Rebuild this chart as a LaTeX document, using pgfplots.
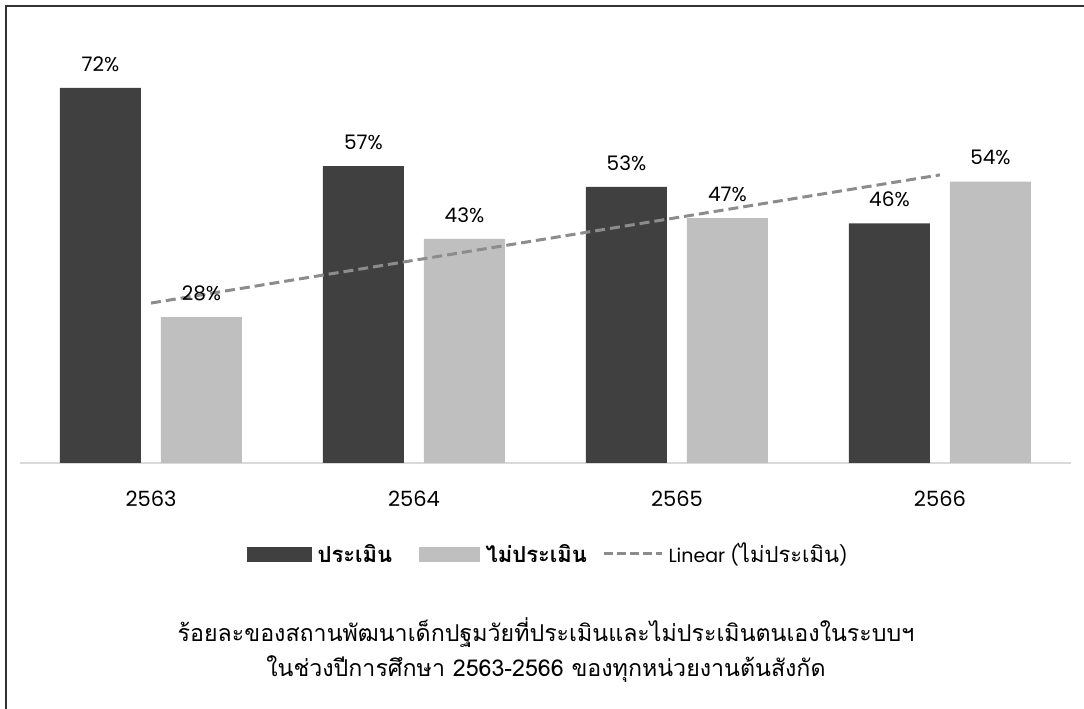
\documentclass[border=0pt]{standalone}
\usepackage{fontspec}
\usepackage{pgfplots}
\pgfplotsset{compat=1.18}
\setmainfont{Poppins}
\newfontfamily\thaifont[Script=Thai]{Loma}
\definecolor{darkbar}{HTML}{404040}
\definecolor{lightbar}{HTML}{BFBFBF}
\definecolor{trendc}{HTML}{8C8C8C}
\definecolor{axisc}{HTML}{D9D9D9}
\begin{document}
\begin{tikzpicture}[x=1pt,y=1pt]
\path[use as bounding box] (0,0) rectangle (1084,709);
\draw[line width=2pt,color=black!80] (6,0) -- (6,703) -- (1084,703);
\begin{axis}[
  at={(19.5pt,246pt)}, anchor=south west,
  scale only axis, width=1052pt, height=416.8pt,
  xmin=-0.5, xmax=3.5, ymin=0, ymax=80,
  axis y line=none, axis x line*=bottom,
  axis line style={color=axisc, line width=1.2pt},
  x axis line style={-},
  xtick=data, xticklabels={2563,2564,2565,2566},
  xtick style={draw=none},
  xticklabel style={font=\fontsize{21}{24}\selectfont, yshift=-20pt},
  /pgf/number format/assume math mode=true,
  ybar, bar width=81pt,
  nodes near coords={\pgfmathprintnumber{\pgfplotspointmeta}\%},
  every node near coord/.append style={font=\fontsize{20}{22}\selectfont, yshift=13pt, color=black},
  clip=false,
]
\addplot[fill=darkbar, draw=none, bar shift=-50.5pt] coordinates {(0,72) (1,57) (2,53) (3,46)};
\addplot[fill=lightbar, draw=none, bar shift=50.5pt] coordinates {(0,28) (1,43) (2,47) (3,54)};
\addplot[sharp plot, no marks, nodes near coords={}, draw=trendc, line width=3pt, dash pattern=on 10pt off 5pt, forget plot] coordinates {(0,30.7) (3,55.3)};
\end{axis}
% legend
\fill[darkbar] (247,147) rectangle (312,162);
\node[anchor=west, font=\thaifont\fontsize{22}{24}\selectfont\bfseries] at (314,155) {ประเมิน};
\fill[lightbar] (419,147) rectangle (480,162);
\node[anchor=west, font=\thaifont\fontsize{22}{24}\selectfont\bfseries] at (482,155) {ไม่ประเมิน};
\draw[trendc, line width=3pt, dash pattern=on 9pt off 4pt] (604,155) -- (662,155);
\node[anchor=west, font=\fontsize{19}{22}\selectfont] at (665,155) {Linear ({\thaifont\fontsize{22}{22}\selectfont ไม่ประเมิน})};
% title
\node[font=\thaifont\fontsize{23.2}{35}\selectfont, align=center] at (546,59) {ร้อยละของสถานพัฒนาเด็กปฐมวัยที่ประเมินและไม่ประเมินตนเองในระบบฯ\\ในช่วงปีการศึกษา 2563-2566 ของทุกหน่วยงานต้นสังกัด};
\end{tikzpicture}
\end{document}
